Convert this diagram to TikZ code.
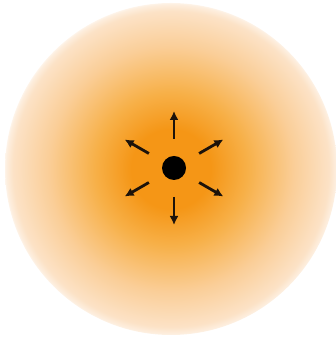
\documentclass[tikz,border=0pt]{standalone}
\usetikzlibrary{arrows.meta}

\definecolor{glowcore}{RGB}{245,150,22}
\definecolor{glowinner}{RGB}{247,176,72}
\definecolor{glowmid}{RGB}{250,206,152}
\definecolor{glowedge}{RGB}{252,226,198}
\definecolor{glowrim}{RGB}{253,238,222}
% circle edge sits at 25bp of the shading
\pgfdeclareradialshading{glow}{\pgfpoint{0bp}{0bp}}{color(0bp)=(glowcore); color(6bp)=(glowcore); color(11.5bp)=(glowinner); color(18.5bp)=(glowmid); color(23.8bp)=(glowedge); color(24.8bp)=(glowrim); color(25.5bp)=(white); color(50bp)=(white)}

\begin{document}
\begin{tikzpicture}[
    spark/.style={-{Latex[length=0.09cm,width=0.09cm]},line width=0.8pt,black!85!brown},
    source/.style={circle,fill=black,inner sep=0pt,minimum size=0.24cm}
]
\useasboundingbox (0,0) rectangle (3.35,3.39);
\shade[shading=glow] (1.71,1.70) circle (1.66);
\node[source] (src) at (1.74,1.71) {};
\foreach \ang in {90,30,-30,-90,-150,150}{
  \coordinate (from\ang) at ([shift={(\ang:0.29)}]src.center);
  \coordinate (to\ang) at ([shift={(\ang:0.57)}]src.center);
  \draw[spark] (from\ang) -- (to\ang);
}
\end{tikzpicture}
\end{document}
